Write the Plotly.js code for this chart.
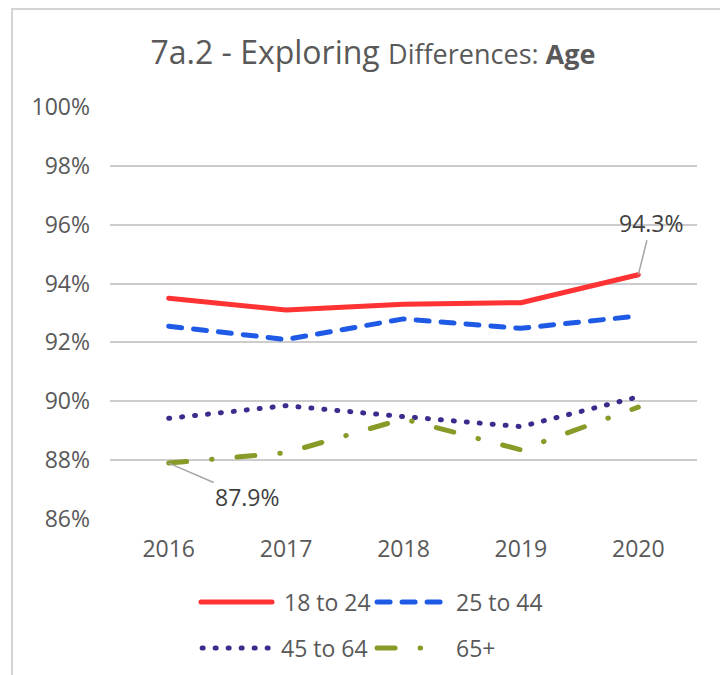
<!DOCTYPE html>
<html>
<head>
<meta charset="utf-8">
<script src="https://cdn.plot.ly/plotly-3.0.1.min.js"></script>
<style>
  html, body { margin: 0; padding: 0; background: #fff; }
  #chart { width: 720px; height: 675px; position: absolute; left: 0; top: 0; }
  #frame { position: absolute; left: 11px; top: 8px; width: 720px; height: 700px;
           border-top: 2px solid #d4d4d4; border-left: 2px solid #d4d4d4; pointer-events: none; }
  .js-line, .shapelayer path { stroke-linecap: round; stroke-linejoin: round; }
</style>
</head>
<body>
<div id="chart"></div>
<div id="frame"></div>
<script>
const years = ['2016', '2017', '2018', '2019', '2020'];
const age18to24 = [93.5, 93.1, 93.3, 93.35, 94.3];
const age25to44 = [92.55, 92.1, 92.8, 92.48, 92.9];
const age45to64 = [89.42, 89.85, 89.48, 89.14, 90.15];
const age65plus = [87.9, 88.25, 89.4, 88.35, 89.8];
const seriesNames = ['18 to 24', '25 to 44', '45 to 64', '65+'];
const yTicks = [86, 88, 90, 92, 94, 96, 98, 100];

const FONT = 'Open Sans, Lato, sans-serif';
const TXT = '#595959';
const styles = [
  { color: '#ff3333', dash: 'solid' },
  { color: '#1f5ae6', dash: '13px,12px' },
  { color: '#3a2c8c', dash: '1px,12px' },
  { color: '#889a28', dash: '18px,25px,0.5px,25px' }
];
const values = [age18to24, age25to44, age45to64, age65plus];

const traces = values.map((v, i) => ({
  type: 'scatter', mode: 'lines', x: years, y: v, name: seriesNames[i],
  line: { color: styles[i].color, width: 5, dash: styles[i].dash },
  showlegend: false, hoverinfo: 'skip'
}));

// custom legend (paper coords)
const legendItems = [
  { x0: 0.155, x1: 0.276, tx: 0.293, y: -0.2015 },
  { x0: 0.455, x1: 0.571, tx: 0.586, y: -0.2015 },
  { x0: 0.157, x1: 0.273, tx: 0.288, y: -0.313 },
  { x0: 0.455, x1: 0.540, tx: 0.586, y: -0.313 }
];
const shapes = legendItems.map((p, i) => ({
  type: 'line', xref: 'paper', yref: 'paper', x0: p.x0, x1: p.x1, y0: p.y, y1: p.y,
  line: { color: styles[i].color, width: 5, dash: styles[i].dash }
}));
const legendAnn = legendItems.map((p, i) => ({
  xref: 'paper', yref: 'paper', x: p.tx, y: p.y, xanchor: 'left', yanchor: 'middle',
  text: seriesNames[i], showarrow: false, font: { family: FONT, size: 23, color: TXT }
}));

const layout = {
  width: 720, height: 675,
  margin: { l: 110, r: 23, t: 107, b: 156 },
  paper_bgcolor: '#ffffff', plot_bgcolor: '#ffffff',
  title: {
    text: "7a.2 - Exploring <span style='font-size:27px'>Differences: </span><b style='font-size:27px'>Age</b>",
    font: { family: FONT, size: 32, color: TXT },
    x: 0.518, xanchor: 'center', xref: 'container',
    y: 0.922, yanchor: 'middle', yref: 'container'
  },
  xaxis: {
    type: 'category', range: [-0.5, 4.5], showgrid: false, zeroline: false, showline: false,
    ticks: '', tickfont: { family: FONT, size: 23, color: TXT }, ticklabelstandoff: 14
  },
  yaxis: {
    range: [86, 100], tickvals: yTicks, ticktext: yTicks.map(v => v + '%'),
    showgrid: true, gridcolor: '#cccccc', gridwidth: 2, zeroline: false, showline: false,
    ticks: '', tickfont: { family: FONT, size: 23, color: TXT }, ticklabelstandoff: 19
  },
  shapes: shapes,
  annotations: [
    { x: 4, y: age18to24[4], xref: 'x', yref: 'y', text: '94.3%', showarrow: true,
      arrowhead: 0, arrowwidth: 1.5, arrowcolor: '#a6a6a6', ax: 13, ay: -52, standoff: 0,
      font: { family: FONT, size: 23, color: '#404040' } },
    { x: 0, y: age65plus[0], xref: 'x', yref: 'y', text: '87.9%', showarrow: true,
      arrowhead: 0, arrowwidth: 1.5, arrowcolor: '#a6a6a6', ax: 79, ay: 34, standoff: 0,
      font: { family: FONT, size: 23, color: '#404040' } }
  ].concat(legendAnn)
};

Plotly.newPlot('chart', traces, layout, { displayModeBar: false, staticPlot: true });
</script>
</body>
</html>
